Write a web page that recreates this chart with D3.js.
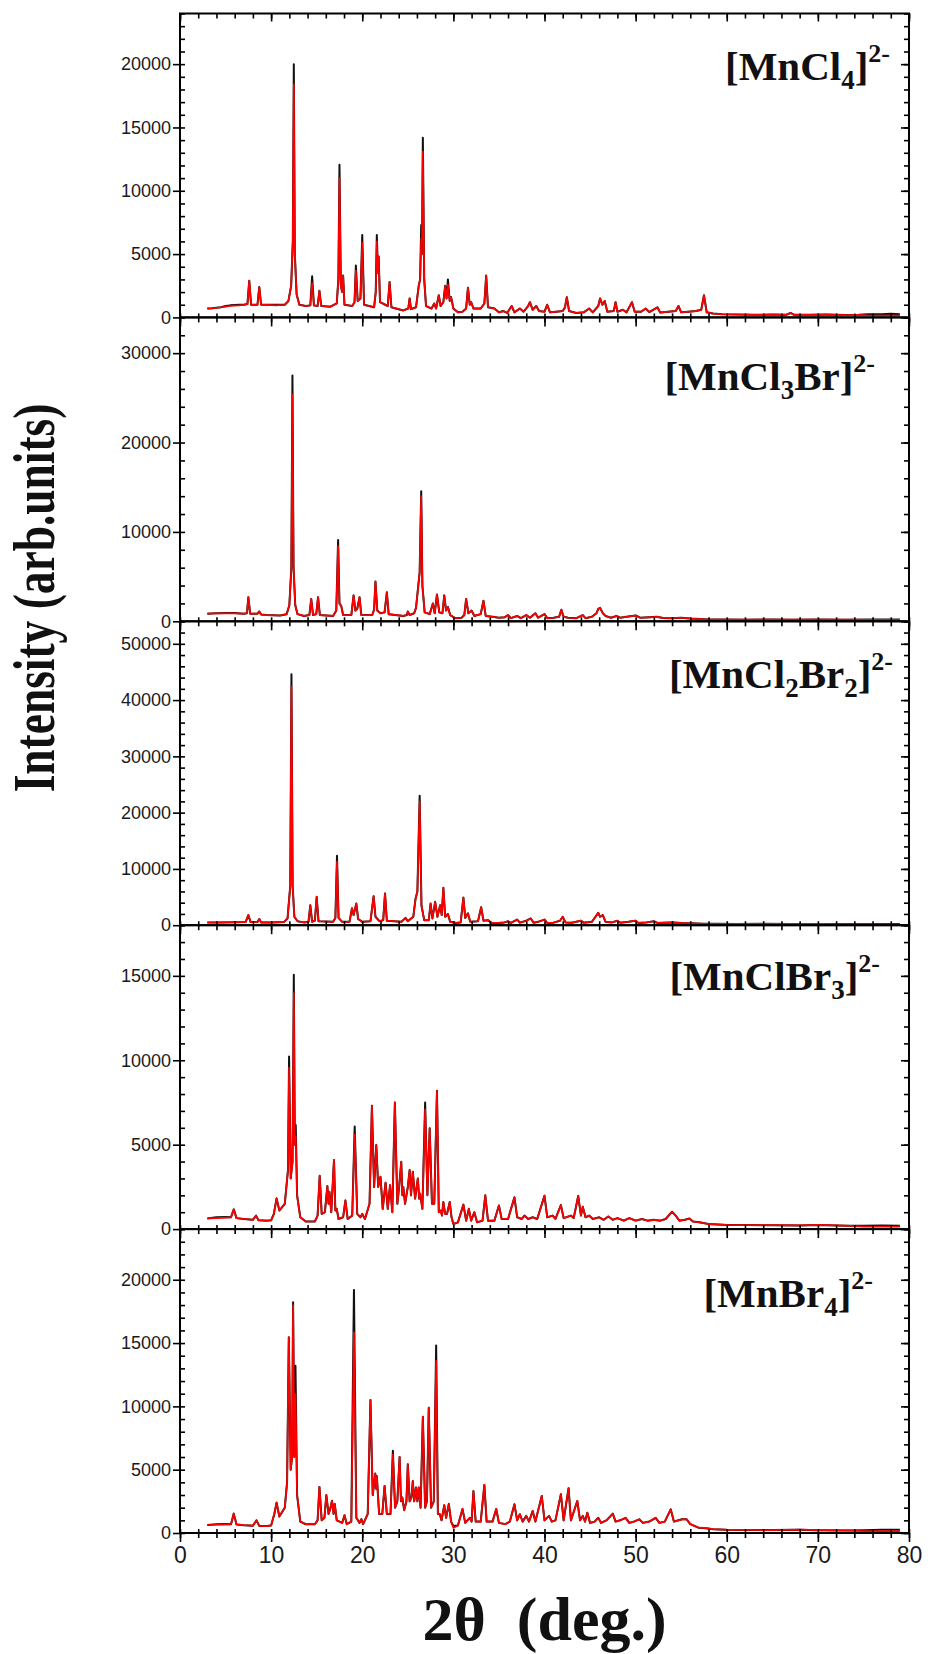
<!DOCTYPE html>
<html><head><meta charset="utf-8">
<script src="https://cdn.jsdelivr.net/npm/d3@7"></script>
<style>body{margin:0;background:#fff} svg{display:block}</style>
</head><body>
<svg id="c" width="928" height="1654"></svg>
<script>
// ---------- data: [2theta, observed, calculated(optional, defaults to observed)] ----------
const MnCl4 = [
[3.0,700],[3.5,720],[4.0,760],[4.5,800],[5.0,900,850],[5.5,950,900],[6.0,980,930],[6.5,1000,950],[7.0,1000],[7.4,1050],[7.6,2900],[7.8,1000],[8.5,1000],[8.7,2400],[8.9,1000],[9.5,1000],[10.5,1000,950],[11.5,1000],[11.9,1300],[12.2,2500],[12.38,6000],[12.49,20000,18400],[12.6,5000],[12.8,1800],[13.1,1000],[13.8,900],[14.3,950],[14.5,3250,2700],[14.7,950],[15.1,900],[15.3,2100],[15.5,900],[16.5,850],[17.2,1100],[17.38,3000],[17.5,12060,11000],[17.65,2500],[17.8,2000],[17.9,3300],[18.05,1000],[18.9,900],[19.15,1200],[19.3,4100,3700],[19.5,1300],[19.8,1500],[20.0,6500,5900],[20.2,1000],[21.3,800],[21.48,2000],[21.6,6500,6000],[21.72,3500],[21.8,4800],[21.95,1200],[22.8,900],[23.0,2800],[23.2,800],[24.5,550],[25.05,700],[25.2,1500],[25.35,650],[25.9,800],[26.2,2500],[26.35,3000],[26.47,7300,6200],[26.55,5000],[26.65,14180,13100],[26.8,3000],[27.0,900],[27.6,700],[27.9,1100],[28.1,700],[28.4,1750],[28.6,900],[28.9,1200],[29.1,2500],[29.25,1500],[29.4,3000,2600],[29.6,1300],[29.75,1600],[30.0,700],[30.5,400],[31.0,450],[31.4,700],[31.6,2350],[31.8,1000],[31.95,1200],[32.2,700],[33.0,700],[33.4,1100],[33.6,3300],[33.8,800],[34.5,700],[35.0,400],
[35.5,500],[35.9,350],[36.4,900],[36.7,400],[37.3,700],[37.7,450],[38.2,900],[38.4,1200],[38.7,600],[39.1,900],[39.4,500],[40.0,450],[40.3,1000],[40.6,400],[41.3,450],[42.0,500],[42.25,800],[42.45,1600],[42.7,500],[43.5,350],[44.3,400],[44.9,700],[45.3,400],[45.9,900],[46.1,1500],[46.35,1000],[46.6,1300],[46.9,450],[47.6,500],[47.8,1200],[48.0,450],[48.6,600],[49.0,400],[49.6,1200],[49.9,450],[50.6,450],[51.1,700],[51.5,420],[52.4,800],[52.7,380],[53.6,450],[54.4,500],[54.7,900],[55.0,400],[55.8,450],[56.6,500],[57.2,600],[57.5,1750],[57.8,400],[58.5,300],[59.5,250],[61.0,230],[63.0,200],[65.0,220],[66.5,200],[67.0,350],[67.4,200],[69.0,200],[71.0,220],[73.0,180],[74.5,200],[75.5,250,170],[77.0,250,150],[78.0,280,160],[79.0,250,150]
];
const MnCl3Br = [
[3.0,850],[4.0,900],[5.0,920,880],[6.0,920,880],[7.0,850],[7.35,900],[7.5,2700],[7.7,850],[8.5,850],[8.7,1100],[8.9,750],[9.5,700],[11.0,650],[11.7,800],[12.0,1800],[12.22,6000],[12.34,27500,25400],[12.46,6000],[12.65,1800],[12.9,800],[13.6,600],[14.2,700],[14.4,2500],[14.6,700],[14.95,800],[15.15,2700],[15.35,700],[16.8,600],[17.15,1200],[17.35,9100,8400],[17.5,2000],[17.7,1700],[17.9,700],[18.8,700],[19.05,2900],[19.25,1200],[19.45,1400],[19.7,2700],[19.9,700],[21.1,700],[21.3,1300],[21.45,4450],[21.65,1200],[22.0,900],[22.45,1000],[22.7,3250],[22.9,800],[24.5,600],[24.9,700],[25.0,1100],[25.2,700],[25.7,900],[25.9,1500],[26.05,3000],[26.3,5500],[26.47,14550,14000],[26.6,4000],[26.85,1000],[27.4,800],[27.75,2000],[27.95,900],[28.2,3000],[28.45,1000],[28.8,900],[29.0,2900],[29.2,1200],[29.4,1600],[29.65,700],[30.2,350],[30.9,400],[31.2,700],[31.4,2500],[31.65,900],[32.0,1200],[32.3,600],[33.0,800],[33.3,2300],[33.55,600],[34.3,500],[35.0,400],
[35.6,450],[36.0,700],[36.3,350],[37.0,600],[37.4,350],[38.0,700],[38.4,400],[39.0,900],[39.3,400],[40.0,800],[40.3,350],[41.0,400],[41.6,500],[41.85,1300],[42.1,500],[42.6,400],[43.5,350],[44.2,700],[44.5,350],[45.2,500],[45.7,900],[45.9,1400],[46.1,1500],[46.4,900],[46.7,600],[47.3,400],[47.9,600],[48.3,400],[49.0,500],[50.0,650],[50.5,400],[51.5,450],[52.3,500],[53.0,380],[54.0,350],[55.0,400],[56.0,300],[57.0,250],[58.0,200],[60.0,200],[62.0,180],[65.0,200],[67.0,180],[70.0,200],[73.0,180],[76.0,200,160],[79.0,200,160]
];
const MnCl2Br2 = [
[3.0,480],[4.5,500],[6.0,520],[7.2,550],[7.5,1800],[7.75,550],[8.5,550],[8.7,1100],[8.9,500],[10.0,500],[11.4,550],[11.8,1200],[12.1,7000],[12.23,44600,42400],[12.36,7000],[12.55,1500],[12.9,700],[13.6,500],[14.1,600],[14.3,3550],[14.5,600],[14.8,800],[15.0,5050],[15.2,700],[16.8,600],[17.05,1300],[17.23,12340,11300],[17.4,1300],[17.8,600],[18.6,600],[18.87,3000],[19.05,1800],[19.35,3850],[19.55,1100],[20.0,600],[20.9,700],[21.25,5150],[21.45,1500],[21.9,700],[22.3,900],[22.5,5650],[22.7,800],[24.3,600],[24.75,1300],[25.0,700],[25.6,1500],[25.85,4700],[26.05,6000],[26.3,23000,21950],[26.5,3500],[26.8,900],[27.3,900],[27.5,3850],[27.7,1200],[28.0,4150],[28.25,1500],[28.55,3550],[28.72,1800],[28.9,6650],[29.1,1500],[29.4,2000],[29.65,600],[30.3,400],[30.8,500],[31.1,4900],[31.3,1300],[31.6,2100],[31.85,600],[32.7,700],[33.05,3200],[33.3,800],[33.8,900],[34.2,400],[35.0,400],
[35.6,500],[36.0,700],[36.3,400],[37.0,1000],[37.3,450],[38.0,800],[38.5,1200],[38.8,450],[39.3,600],[40.0,1000],[40.3,400],[41.0,450],[41.7,800],[42.0,1500],[42.3,500],[43.0,450],[44.0,800],[44.3,450],[45.2,600],[45.6,1500],[45.9,2200],[46.1,1500],[46.4,1800],[46.7,600],[47.4,500],[48.0,800],[48.3,450],[49.2,600],[50.0,800],[50.3,400],[51.2,500],[52.0,700],[52.4,400],[53.2,450],[54.0,500],[55.0,400],[56.0,350],[57.5,250],[59.0,250],[61.0,220],[64.0,250],[67.0,220],[70.0,230],[73.0,200],[76.0,220,180],[79.0,200,160]
];
const MnClBr3 = [
[3.0,630],[4.0,700,650],[5.0,720,680],[5.6,700],[5.9,1170],[6.2,650],[7.0,600],[8.0,550],[8.35,800],[8.6,530],[9.5,500],[10.0,520],[10.3,900],[10.6,1820],[10.9,1100],[11.5,1500],[11.85,3500],[11.97,10220,9560],[12.15,3000],[12.35,4000],[12.49,15060,13980],[12.6,5000],[12.7,6170,5500],[12.85,2000],[13.2,700],[13.8,450],[14.8,450],[15.1,800],[15.33,3160],[15.55,900],[15.9,1000],[16.17,2550],[16.3,1500],[16.4,2200],[16.6,1000],[16.9,4090],[17.05,1100],[17.2,1200],[17.4,600],[17.9,700],[18.15,1700],[18.4,600],[18.9,800],[19.17,6070,5600],[19.45,900],[19.8,700],[20.0,900],[20.3,600],[20.8,1500],[21.06,7310],[21.3,2500],[21.54,4980],[21.75,2500],[22.0,3100],[22.25,1200],[22.56,2750],[22.8,1200],[23.05,2600],[23.3,1000],[23.58,7500],[23.85,1500],[24.05,2500],[24.28,3990],[24.4,2000],[24.5,2500],[24.7,1500],[25.0,2500],[25.2,3500],[25.35,2000],[25.55,3400],[25.8,1800],[26.1,3000],[26.25,1800],[26.35,2100],[26.6,1200],[26.9,7500,7100],[27.15,2000],[27.4,5970],[27.65,1500],[27.9,1500],[28.2,8190],[28.4,1000],[28.6,1100],[28.75,800],[28.9,1600],[29.1,900],[29.3,900],[29.6,1600],[29.8,700],[30.0,300],[30.5,400],[31.1,1450],[31.4,500],[31.7,1200],[31.95,500],[32.3,1000],[32.6,400],[33.2,500],[33.5,2000],[33.8,500],[34.5,500],[35.0,1400],[35.3,600],[36.0,600],[36.7,1880],[37.0,700],[37.5,600],[37.8,800],[38.2,600],[38.7,700],[39.2,600],[40.0,1980],[40.3,700],[40.9,800],[41.2,600],[41.8,1420],[42.1,650],[42.9,800],[43.2,650],[43.7,1960],[44.0,800],[44.2,1330],[44.5,700],[44.9,800],[45.3,600],[46.0,700],[46.5,550],[47.0,750],[47.5,550],[48.0,650],[48.7,500],[49.3,650],[50.0,500],[50.7,600],[51.3,500],[52.0,550],[52.7,500],[53.3,600],[54.0,1030],[54.4,800],[54.8,500],[55.4,550],[55.9,630],[56.3,450],[57.0,400],[58.0,300],[60.0,250],[62.0,240],[65.0,230],[68.0,220],[70.0,250],[73.0,200],[75.0,200,150],[77.0,220,150],[79.0,200,150]
];
const MnBr4 = [
[3.0,630],[4.0,700,650],[5.0,720,680],[5.6,700],[5.9,1530],[6.2,680],[7.0,620],[8.0,580],[8.4,1000],[8.7,560],[9.5,550],[10.0,600],[10.35,1500],[10.6,2400],[10.9,1300],[11.5,2000],[11.75,4000],[11.94,15450],[12.15,5000],[12.3,6000],[12.41,18220,18000],[12.55,6000],[12.67,13200,10970],[12.85,3000],[13.2,900],[13.8,690],[14.8,690],[15.1,1000],[15.3,3640],[15.55,1000],[15.85,1200],[16.06,3000],[16.3,1500],[16.45,1800],[16.68,2550],[16.85,1500],[16.98,2300],[17.2,1000],[17.8,800],[18.05,1400],[18.3,700],[18.8,900],[19.09,19200,15850],[19.35,1200],[19.7,800],[19.9,1100],[20.1,700],[20.6,1500],[20.9,10500],[21.15,3000],[21.43,4690],[21.52,3500],[21.6,4500],[21.85,1500],[22.2,1500],[22.45,3720],[22.7,1500],[23.1,1500],[23.36,6490,6200],[23.6,2000],[23.85,2500],[24.1,6010],[24.25,2500],[24.4,2800],[24.6,1800],[24.85,2500],[25.0,5430],[25.2,2500],[25.4,2800],[25.55,4100],[25.7,2500],[25.9,3600],[26.05,2500],[26.2,3600],[26.4,2000],[26.65,9180],[26.9,2000],[27.1,2500],[27.3,9900],[27.55,2000],[27.85,2500],[28.11,14800,13600],[28.3,1500],[28.5,1500],[28.7,1000],[29.0,2200],[29.2,1200],[29.5,2300],[29.75,900],[30.0,550,400],[30.5,600],[31.0,1900],[31.3,800],[31.8,1200],[32.0,900],[32.2,3320],[32.45,900],[33.0,900],[33.4,3800],[33.65,900],[34.3,900],[34.7,1900],[35.0,800],[35.7,700],[36.2,900],[36.7,2270],[37.0,1000],[37.3,1480],[37.6,900],[38.0,1350],[38.3,900],[38.7,1740],[39.0,900],[39.7,2930],[40.0,1000],[40.5,1350],[40.8,900],[41.2,1000],[41.8,3060],[42.1,1000],[42.64,3540],[42.9,1000],[43.6,2530],[43.9,1000],[44.2,1350],[44.45,900],[44.7,1600],[45.0,800],[45.5,900],[45.9,1200],[46.2,800],[46.8,1000],[47.5,1530],[47.8,900],[48.3,1000],[48.9,1200],[49.3,800],[49.8,900],[50.4,1080],[50.8,800],[51.5,900],[52.2,1200],[52.6,800],[53.2,900],[53.85,1870],[54.2,900],[54.7,1000],[55.1,1080],[55.6,1080],[56.0,700],[56.9,420],[57.5,400],[58.5,300],[60.0,250],[62.0,240],[65.0,230],[68.0,260],[70.0,220],[73.0,200],[75.0,220,150],[77.0,250,150],[79.0,250,150]
];

const seriesData   = [MnCl4, MnCl3Br, MnCl2Br2, MnClBr3, MnBr4];
const yMaxes       = [24000, 34000, 54000, 18000, 24000];
const yMajorSteps  = [5000, 10000, 10000, 5000, 5000];
const yMinorSteps  = [1000, 2000, 2000, 1000, 1000];
const xTickLabels  = [0, 10, 20, 30, 40, 50, 60, 70, 80];
const xMinorTicks  = d3.range(0, 81, 2);
const panelLabels = [
  [["[MnCl",""],["4","sub"],["]",""],["2-","sup"]],
  [["[MnCl",""],["3","sub"],["Br",""],["]",""],["2-","sup"]],
  [["[MnCl",""],["2","sub"],["Br",""],["2","sub"],["]",""],["2-","sup"]],
  [["[MnClBr",""],["3","sub"],["]",""],["2-","sup"]],
  [["[MnBr",""],["4","sub"],["]",""],["2-","sup"]]
];
const yTitle = "Intensity (arb.units)";
const xTitle = "2\u03B8  (deg.)";

// ---------- layout ----------
const left = 180, right = 909, top0 = 13.5, ph = 303.9;
const labelRight = [890, 875, 893, 880, 873];
const labelBase  = [80, 390, 688, 990, 1307];
const svg = d3.select("#c");
const x = d3.scaleLinear().domain([0, 80]).range([left, right]);
const sansFont = "'Liberation Sans', Arial, Helvetica, sans-serif";
const serifFont = "'Liberation Serif', 'Times New Roman', serif";

function styleAxis(g){
  g.select(".domain").remove();
  g.selectAll(".tick line").attr("stroke","#000").attr("stroke-width",1.6);
  g.selectAll(".tick text").attr("fill","#1a1a1a").style("font-family",sansFont);
}

seriesData.forEach((data, i) => {
  const yTop = top0 + i*ph, yBot = yTop + ph;
  const y = d3.scaleLinear().domain([0, yMaxes[i]]).range([yBot, yTop]);
  const majors = d3.range(0, yMaxes[i] + 1, yMajorSteps[i]);
  const minors = d3.range(0, yMaxes[i] + 1, yMinorSteps[i]);

  const clipId = "clip" + i;
  svg.append("clipPath").attr("id", clipId).append("rect")
    .attr("x", left).attr("y", yTop).attr("width", right-left).attr("height", ph);

  const lineObs = d3.line().x(d => x(d[0])).y(d => y(d[1]));
  const lineCalc = d3.line().x(d => x(d[0])).y(d => y(d.length > 2 ? d[2] : d[1]));
  const plot = svg.append("g").attr("clip-path", `url(#${clipId})`);
  plot.append("path").datum(data).attr("d", lineObs)
    .attr("fill","none").attr("stroke","#111").attr("stroke-width",2).attr("stroke-linejoin","round");
  plot.append("path").datum(data).attr("d", lineCalc)
    .attr("fill","none").attr("stroke","#ff0000").attr("stroke-width",1.7).attr("stroke-linejoin","round");

  // left axis: labelled majors outward, minors inward
  const gl = svg.append("g").attr("transform",`translate(${left},0)`)
    .call(d3.axisLeft(y).tickValues(majors).tickSize(7).tickPadding(2).tickFormat(d3.format("d")));
  styleAxis(gl);
  gl.selectAll(".tick text").style("font-size","18px");
  const gli = svg.append("g").attr("transform",`translate(${left},0)`)
    .call(d3.axisRight(y).tickValues(minors).tickSize(5).tickFormat(""));
  styleAxis(gli);

  // right axis: inward ticks
  const gr = svg.append("g").attr("transform",`translate(${right},0)`)
    .call(d3.axisLeft(y).tickValues(minors).tickSize(5).tickFormat(""));
  styleAxis(gr);
  const grM = svg.append("g").attr("transform",`translate(${right},0)`)
    .call(d3.axisLeft(y).tickValues(majors).tickSize(8).tickFormat(""));
  styleAxis(grM);

  // bottom axis: ticks crossing the line
  const gbUp = svg.append("g").attr("transform",`translate(0,${yBot})`)
    .call(d3.axisTop(x).tickValues(xMinorTicks).tickSize(4).tickFormat(""));
  styleAxis(gbUp);
  const gbDn = svg.append("g").attr("transform",`translate(0,${yBot})`)
    .call(d3.axisBottom(x).tickValues(xMinorTicks).tickSize(5).tickFormat(""));
  styleAxis(gbDn);
  const gbM = svg.append("g").attr("transform",`translate(0,${yBot})`)
    .call(d3.axisBottom(x).tickValues(xTickLabels).tickSize(9).tickPadding(5)
      .tickFormat(i === seriesData.length-1 ? d3.format("d") : ""));
  styleAxis(gbM);
  gbM.selectAll(".tick text").style("font-size","23px");

  if (i === 0) {
    const gt = svg.append("g").attr("transform",`translate(0,${yTop})`)
      .call(d3.axisBottom(x).tickValues(xMinorTicks).tickSize(5).tickFormat(""));
    styleAxis(gt);
    const gtM = svg.append("g").attr("transform",`translate(0,${yTop})`)
      .call(d3.axisBottom(x).tickValues(xTickLabels).tickSize(8).tickFormat(""));
    styleAxis(gtM);
  }

  // frame
  svg.append("rect").attr("x",left).attr("y",yTop).attr("width",right-left).attr("height",ph)
    .attr("fill","none").attr("stroke","#000").attr("stroke-width",2);

  // label (relative dy shifts keep a single text chunk so end-anchoring works)
  const t = svg.append("text").attr("x", labelRight[i]).attr("y", labelBase[i])
    .attr("text-anchor","end").style("font-family",serifFont).style("font-weight","bold")
    .attr("fill","#111");
  let cur = 0;
  panelLabels[i].forEach(([s, kind]) => {
    const target = kind === "sub" ? 9 : kind === "sup" ? -18 : 0;
    const ts = t.append("tspan").attr("dy", target - cur).text(s);
    cur = target;
    ts.style("font-size", kind === "sub" ? "27px" : kind === "sup" ? "26px" : "41px");
  });
});

// axis titles
svg.append("text").attr("transform","translate(54,598) rotate(-90) scale(0.77,1)")
  .attr("text-anchor","middle").style("font-family",serifFont).style("font-weight","bold")
  .style("font-size","59px").attr("fill","#111").text(yTitle);
svg.append("text").attr("x",(left+right)/2).attr("y",1640)
  .attr("text-anchor","middle").style("font-family",serifFont).style("font-weight","bold")
  .style("font-size","62px").style("white-space","pre").attr("xml:space","preserve")
  .attr("fill","#111").text(xTitle);
</script>
</body></html>
